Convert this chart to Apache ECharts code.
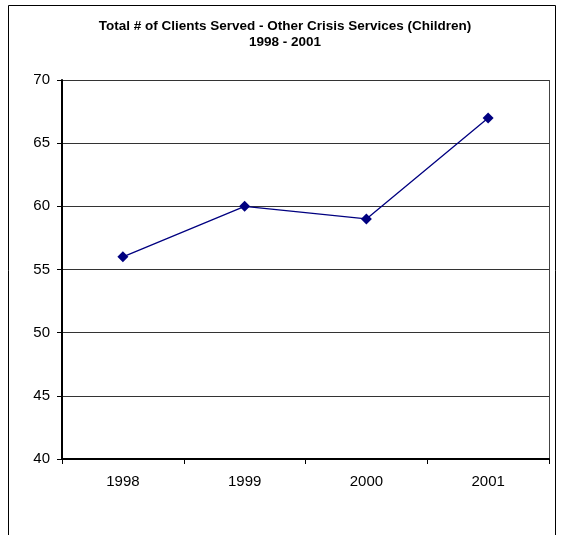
<!DOCTYPE html>
<html><head><meta charset="utf-8">
<script src="https://cdn.jsdelivr.net/npm/echarts@6/dist/echarts.min.js"></script>
<style>html,body{margin:0;padding:0;background:#fff}#c{width:562px;height:535px}</style>
</head><body><div id="c"></div>
<script>
const titleLines = ["Total # of Clients Served - Other Crisis Services (Children)", "1998 - 2001"];
const categories = ["1998", "1999", "2000", "2001"];
const clientsServed = [56, 60, 59, 67];
const yMin = 40, yMax = 70, yStep = 5;

const chart = echarts.init(document.getElementById('c'), null, {renderer: 'canvas'});
chart.setOption({
  animation: false,
  backgroundColor: '#fff',
  title: {
    text: titleLines.join('\n'),
    left: 280, top: 13, textAlign: 'center',
    textStyle: {fontFamily: 'Liberation Sans, Arial', fontSize: 13.5, fontWeight: 'bold', color: '#000', lineHeight: 16}
  },
  graphic: [{
    type: 'rect', shape: {x: 8.5, y: 5.5, width: 547, height: 545},
    style: {fill: 'none', stroke: '#000', lineWidth: 1}, silent: true, z: -1
  }, {
    type: 'line', shape: {x1: 549.5, y1: 80, x2: 549.5, y2: 459},
    style: {stroke: '#444', lineWidth: 1}, silent: true
  }],
  grid: {left: 62, top: 80, right: 13, bottom: 76, containLabel: false},
  xAxis: {
    type: 'category', data: categories, boundaryGap: true,
    axisLine: {lineStyle: {color: '#000', width: 2}},
    axisTick: {show: true, inside: false, length: 5, lineStyle: {color: '#000'}},
    axisLabel: {fontFamily: 'Liberation Sans, Arial', fontSize: 15, color: '#000', margin: 15},
    splitLine: {show: false}
  },
  yAxis: {
    type: 'value', min: yMin, max: yMax, interval: yStep,
    axisLine: {show: true, lineStyle: {color: '#000', width: 2}},
    axisTick: {show: true, inside: false, length: 5, lineStyle: {color: '#000'}},
    axisLabel: {fontFamily: 'Liberation Sans, Arial', fontSize: 15, color: '#000', margin: 12},
    splitLine: {show: true, lineStyle: {color: '#333', width: 1}}
  },
  series: [{
    type: 'line', data: clientsServed,
    symbol: 'diamond', symbolSize: 11,
    lineStyle: {color: '#000080', width: 1.3},
    itemStyle: {color: '#000080'}
  }]
});
</script></body></html>
